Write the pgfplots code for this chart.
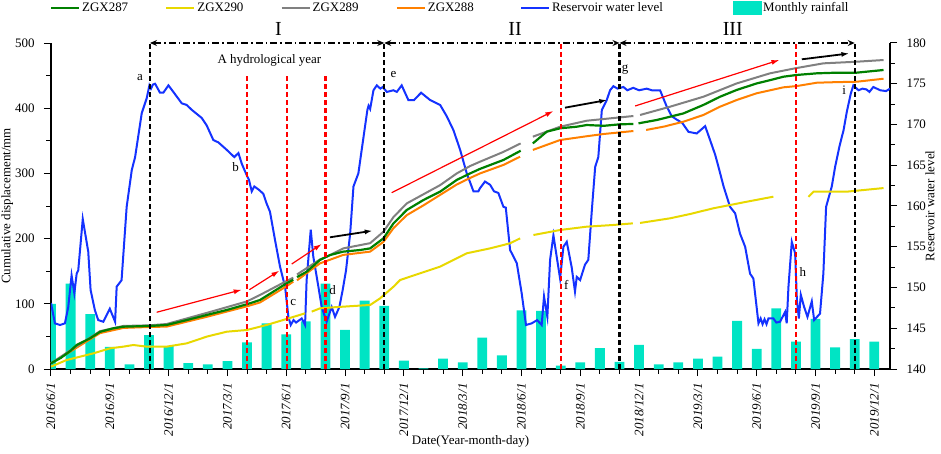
\documentclass[border=0pt]{standalone}
\usepackage{fontspec}
\setmainfont{Liberation Serif}
\usepackage{pgfplots}
\pgfplotsset{compat=1.18}
\usetikzlibrary{arrows.meta}
\definecolor{cg}{RGB}{0,128,0}
\definecolor{cy}{RGB}{232,216,0}
\definecolor{cgr}{RGB}{128,128,128}
\definecolor{co}{RGB}{255,128,0}
\definecolor{cb}{RGB}{20,50,255}
\definecolor{crain}{RGB}{0,228,196}
\newcommand{\fs}{\fontsize{13}{15}\selectfont}
\pgfplotsset{
  base/.style={width=839bp,height=326bp,scale only axis,xmin=0,xmax=42.8,
    at={(0,0)},anchor=south west,
    /pgf/number format/assume math mode=true,
    tick style={black,line width=1bp},
    major tick length=7bp,minor tick length=4.5bp,
    tick align=outside,
    axis line style={-,line width=1.5bp},
    label style={font=\fs},
    ticklabel style={font=\fs},
  }
}
\begin{document}
\begin{tikzpicture}
% ---------- Axis A: left axis, x axis, rainfall bars
\begin{axis}[base, ymin=0, ymax=500,
  axis x line*=bottom, axis y line*=left,
  xtick={0,3,...,42},
  xticklabels={2016/6/1,2016/9/1,2016/12/1,2017/3/1,2017/6/1,2017/9/1,2017/12/1,2018/3/1,2018/6/1,2018/9/1,2018/12/1,2019/3/1,2019/6/1,2019/9/1,2019/12/1},
  minor x tick num=2,
  ytick={0,100,...,500}, minor y tick num=1,
  xticklabel style={rotate=90,anchor=east,font=\fs\itshape},
  xticklabel shift=4bp, yticklabel shift=6bp,
  xlabel={Date(Year-month-day)},
  ylabel={Cumulative displacement/mm},
  xlabel style={at={(axis description cs:0.5,-0.221)},anchor=center},
  ylabel style={at={(axis description cs:-0.052,0.5)},anchor=center},
]
\addplot[ybar, bar width=0.5, bar shift=0, fill=crain, draw=none] table {
0 100
1 131
2 84
3 34
4 7
5 52
6 35
7 9
8 7
9 12
10 41
11 70
12 53
13 73
14 131
15 60
16 105
17 97
18 13
19 1
20 16
21 10
22 48
23 21
24 90
25 89
26 5
27 10
28 32
29 11
30 37
31 7
32 10
33 16
34 19
35 74
36 31
37 93
38 42
39 77
40 33
41 46
42 42
};
\end{axis}
% ---------- Axis B: right axis, reservoir water level
\begin{axis}[base, ymin=140, ymax=180,
  axis y line*=right, axis x line=none,
  ytick={140,145,...,180}, minor y tick num=1,
  yticklabel shift=6bp,
  ylabel={Reservoir water level},
  ylabel style={at={(axis description cs:1.0477,0.5)},anchor=center},
]
\addplot[cb, line width=2bp] table {
0.0 148.1
0.2 145.6
0.46 145.4
0.71 145.6
0.88 147.6
1.05 151.5
1.19 149.3
1.31 151.7
1.39 152.1
1.62 158.4
1.9 154.4
2.02 149.7
2.24 147.2
2.41 146.0
2.67 145.8
3.0 147.4
3.27 145.8
3.35 150.1
3.6 150.9
3.86 159.9
4.12 164.4
4.29 166.0
4.63 171.4
4.88 173.2
5.02 174.8
5.1 174.4
5.2 174.9
5.31 175.0
5.56 173.9
5.73 173.9
5.99 174.8
6.24 174.0
6.67 172.6
6.92 172.4
7.18 171.8
7.69 170.8
7.94 169.9
8.28 168.1
8.54 167.8
8.96 166.9
9.35 166.0
9.56 166.5
9.73 165.2
9.98 163.8
10.1 163.2
10.24 161.8
10.37 162.4
10.6 162.0
10.83 161.5
11.0 160.3
11.17 159.3
11.43 155.8
11.68 152.6
11.94 150.1
12.11 146.4
12.23 145.4
12.37 146.0
12.5 145.7
12.79 146.2
12.96 145.4
13.04 150.9
13.25 157.1
13.38 153.8
13.64 150.1
13.81 147.6
14.06 145.8
14.32 147.6
14.49 146.4
14.71 147.6
14.88 149.7
15.05 152.1
15.26 156.6
15.43 162.4
15.68 164.0
15.85 166.9
16.14 171.8
16.2 172.3
16.28 171.9
16.45 174.2
16.62 174.8
16.8 174.4
16.92 174.6
17.13 174.0
17.47 174.2
17.64 174.0
17.89 174.8
18.23 173.0
18.52 173.0
18.88 173.9
19.34 173.0
19.85 172.4
20.19 171.0
20.53 169.3
20.87 166.9
21.21 164.0
21.55 161.8
21.8 161.8
21.89 162.2
22.14 163.0
22.4 162.6
22.6 161.8
22.82 161.6
23.08 159.9
23.2 159.8
23.42 154.6
23.76 153.0
24.01 149.3
24.23 145.4
24.52 145.6
24.8 146.0
25.03 145.4
25.15 148.9
25.32 146.4
25.46 153.4
25.63 156.4
25.77 154.2
25.97 151.1
26.14 155.0
26.31 155.6
26.56 152.5
26.73 149.5
26.82 151.3
26.99 150.9
27.24 152.8
27.41 153.4
27.59 159.5
27.76 164.8
27.92 166.0
28.1 171.8
28.35 173.0
28.52 174.2
28.69 174.7
28.9 174.4
29.2 174.6
29.4 174.2
29.7 174.5
30.0 174.2
30.39 174.4
30.65 174.2
31.07 174.2
31.41 172.2
31.67 171.0
31.92 170.6
32.2 170.2
32.52 169.1
32.94 168.9
33.37 169.8
33.62 168.1
33.88 166.3
34.05 164.8
34.31 162.4
34.64 159.9
34.9 159.1
35.15 156.6
35.41 155.0
35.66 151.7
35.83 151.1
36.09 145.6
36.2 146.2
36.3 145.5
36.4 146.1
36.5 145.5
36.6 146.2
36.85 146.2
37.0 145.7
37.19 145.8
37.45 147.0
37.53 145.6
37.62 150.1
37.79 155.6
37.96 154.2
38.05 148.5
38.15 146.2
38.25 149.1
38.42 147.6
38.59 146.4
38.81 148.3
38.93 146.0
39.23 146.8
39.4 151.7
39.54 159.9
39.83 162.4
40.0 164.8
40.22 167.3
40.43 169.3
40.6 171.6
40.8 173.8
40.93 174.8
41.19 174.2
41.4 174.4
41.6 174.3
41.75 174.0
41.95 174.6
42.3 174.2
42.6 174.1
42.8 174.4
};
\end{axis}
% ---------- Axis C: displacement curves, annotations, legend
\begin{axis}[base, ymin=0, ymax=500, hide axis, clip=false,
  unbounded coords=jump,
  legend columns=6,
  legend image code/.code={\draw[#1] (0bp,0bp) -- (28bp,0bp);},
  legend style={draw=none, fill=none, font=\fs,
    at={(axis description cs:-0.005,1.107)}, anchor=west,
    /tikz/every even column/.append style={column sep=35bp}},
]
% ZGX288 orange
\addplot[co, line width=2bp, forget plot] table {
0 8.7
1.0 27
2.5 55
3.69 63
5.05 64.5
5.9 65
7.94 80
9.98 96
10.66 102
12.02 127
12.36 134
12.45 nan
12.55 136
13.72 162
14.91 175
16.28 180
16.96 195
17.47 216
18.15 236
19.0 251
20.7 283
21.38 293
21.89 300
23.08 313
23.93 325.6
24.2 nan
24.58 336
25.97 351.2
27.33 357
28.18 360.4
29.71 365
30.0 nan
30.36 366.6
31.3 372
32.26 379.3
33.28 389.6
34.13 402.3
34.98 412.6
36.0 422.9
37.36 432
38.05 434
39.07 439.1
40.09 440
41.1 440.6
42.47 445.2
};
% ZGX289 gray
\addplot[cgr, line width=2bp, forget plot] table {
0 8.7
1.0 29
2.5 58
3.69 66
5.05 67
5.9 69
7.94 86
9.98 103.5
10.66 113.5
12.02 135
12.36 140
12.45 nan
12.55 145
13.72 168
14.06 172
14.91 185
15.77 190
16.28 193
16.96 210.6
17.47 233
18.15 254
19.85 282
20.7 300
21.38 311.3
21.89 318
23.08 333
23.96 346
24.2 nan
24.58 356.3
25.97 371.6
27.33 380.8
29.71 388
29.85 nan
30.05 389.6
31.58 402.3
33.28 417.6
34.98 438
36.68 453.5
37.96 461.2
39.4 468.8
41.1 471.3
42.47 473.9
};
% ZGX287 green
\addplot[cg, line width=2.2bp, forget plot] table {
0 8.7
0.5 17
1.0 28
1.31 36.8
1.99 47
2.5 57
3.18 62.4
3.69 64.9
5.05 66
5.9 67.5
6.92 75
7.94 82.8
8.96 90.5
9.98 99.2
10.66 105.8
11.34 118.6
12.02 131.4
12.36 137
12.45 nan
12.55 141
13.04 149.2
13.72 167.2
14.23 174.8
14.91 180
15.77 182.5
16.28 185
16.62 192.7
16.96 200.4
17.47 223.3
18.15 243.9
19.0 259.2
19.85 272
20.7 290
21.38 300
21.89 307
23.08 320.6
23.96 334.8
24.2 nan
24.58 346
25.29 364
25.97 369.2
26.82 371.6
27.33 374.2
28.2 373
29.03 375.3
29.71 375.8
29.85 nan
29.97 376.8
30.9 381.9
32.26 392
33.28 405
34.13 417.6
34.98 428
36.0 438
36.68 443
37.36 448.3
38.05 451
39.07 453.5
40.09 454.5
41.1 454.5
42.47 458.6
};
% ZGX290 yellow
\addplot[cy, line width=2bp, forget plot] table {
0 3.6
0.8 13.8
1.48 18.9
2.16 24
3.01 31.7
3.69 34.3
4.2 36.8
4.88 34.3
5.9 34.3
6.92 39.3
7.94 49.6
8.96 57.2
9.98 59.8
11.0 67.5
11.85 75.2
12.96 85.4
13.1 nan
13.3 88
13.72 93
14.4 94.6
15.42 96.6
16.28 98.2
16.79 108.4
17.47 126.2
17.81 136.5
18.83 146.8
19.85 157
21.21 177.5
22.4 185
23.42 192.8
23.93 200.4
24.2 nan
24.61 205.5
25.97 213.2
27.33 218.3
28.69 220.9
29.68 223.4
29.85 nan
30.05 224
31.58 231.1
32.6 237.7
33.79 246.5
35.5 256.6
36.85 264.3
37.5 nan
38.64 264
38.9 272
40.6 272
42.47 277.5
};
% legend entries
\addlegendimage{cg, line width=2.2bp}
\addlegendentry{ZGX287}
\addlegendimage{cy, line width=2.2bp}
\addlegendentry{ZGX290}
\addlegendimage{cgr, line width=2.2bp}
\addlegendentry{ZGX289}
\addlegendimage{co, line width=2.2bp}
\addlegendentry{ZGX288\hspace*{9bp}\mbox{}}
\addlegendimage{cb, line width=2.2bp}
\addlegendentry{Reservoir water level\hspace*{33bp}\mbox{}}
\addlegendimage{legend image code/.code={\fill[crain] (0bp,-6.5bp) rectangle (28bp,6.5bp);}}
\addlegendentry{Monthly rainfall}
% vertical dashed lines
\foreach \xx in {5.05,17,29,41}{
  \edef\temp{\noexpand\draw[black, line width=2.2bp, dash pattern=on 5bp off 3bp] (axis cs:\xx,0) -- (axis cs:\xx,500);}
  \temp
}
\foreach \xx in {10,12.05,14}{
  \edef\temp{\noexpand\draw[red, line width=2.2bp, dash pattern=on 5bp off 3bp] (axis cs:\xx,0) -- (axis cs:\xx,450);}
  \temp
}
\foreach \xx in {26,38}{
  \edef\temp{\noexpand\draw[red, line width=2.2bp, dash pattern=on 5bp off 3bp] (axis cs:\xx,0) -- (axis cs:\xx,500);}
  \temp
}
% period arrows
\draw[black, line width=1.4bp, dash pattern=on 7bp off 3bp on 1.5bp off 3bp, {Stealth[open,length=7bp,width=6bp]}-{Stealth[open,length=7bp,width=6bp]}] (axis cs:5.05,500) -- (axis cs:17,500);
\draw[black, line width=1.4bp, dash pattern=on 7bp off 3bp on 1.5bp off 3bp, {Stealth[open,length=7bp,width=6bp]}-{Stealth[open,length=7bp,width=6bp]}] (axis cs:17,500) -- (axis cs:29,500);
\draw[black, line width=1.4bp, dash pattern=on 7bp off 3bp on 1.5bp off 3bp, {Stealth[open,length=7bp,width=6bp]}-{Stealth[open,length=7bp,width=6bp]}] (axis cs:29,500) -- (axis cs:41,500);
% trend arrows
\draw[red, line width=1.2bp, -{Latex[length=8bp,width=5bp]}] (axis cs:5.39,87) -- (axis cs:9.73,121.6);
\draw[red, line width=1.2bp, -{Latex[length=8bp,width=5bp]}] (axis cs:10.12,121.6) -- (axis cs:11.65,150.8);
\draw[red, line width=1.2bp, -{Latex[length=8bp,width=5bp]}] (axis cs:12.28,161) -- (axis cs:13.81,191.7);
\draw[black, line width=1.8bp, -{Latex[length=8bp,width=5bp]}] (axis cs:14.23,202) -- (axis cs:16.41,212.1);
\draw[red, line width=1.2bp, -{Latex[length=8bp,width=5bp]}] (axis cs:17.38,270.4) -- (axis cs:25.63,395.7);
\draw[black, line width=1.8bp, -{Latex[length=8bp,width=5bp]}] (axis cs:26.22,400.8) -- (axis cs:28.38,412.6);
\draw[red, line width=1.2bp, -{Latex[length=8bp,width=5bp]}] (axis cs:29.8,403.4) -- (axis cs:37.16,474);
\draw[black, line width=1.8bp, -{Latex[length=8bp,width=5bp]}] (axis cs:38.3,475) -- (axis cs:40.73,484);
% labels
\node[font=\fontsize{20}{22}\selectfont] at (axis cs:11.6,522) {I};
\node[font=\fontsize{20}{22}\selectfont] at (axis cs:23.67,522) {II};
\node[font=\fontsize{20}{22}\selectfont] at (axis cs:34.78,522) {III};
\node[font=\fs] at (axis cs:11.14,474) {A hydrological year};
\node[font=\fs] at (axis cs:4.54,447) {a};
\node[font=\fs] at (axis cs:9.42,309) {b};
\node[font=\fs] at (axis cs:12.36,102) {c};
\node[font=\fs] at (axis cs:14.37,121) {d};
\node[font=\fs] at (axis cs:17.47,451) {e};
\node[font=\fs] at (axis cs:26.28,129) {f};
\node[font=\fs] at (axis cs:29.29,459) {g};
\node[font=\fs] at (axis cs:38.35,148) {h};
\node[font=\fs] at (axis cs:40.46,427) {i};
\end{axis}
\pgfresetboundingbox
\useasboundingbox (-51bp,-85bp) rectangle (890bp,369bp);
\end{tikzpicture}
\end{document}
